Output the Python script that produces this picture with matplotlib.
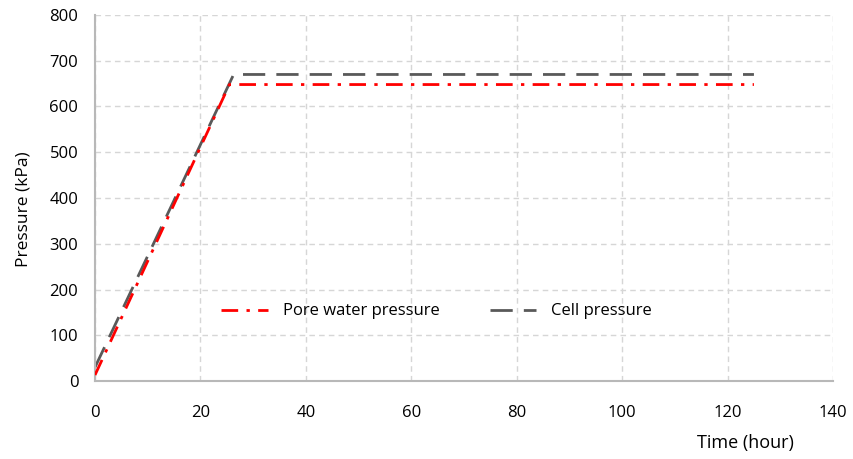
import matplotlib.pyplot as plt

# data
time_pore = [0, 25.5, 125]
pore_pressure = [13, 648, 648]
time_cell = [0, 26.3, 125]
cell_pressure = [30, 670, 670]

x_ticks = [0, 20, 40, 60, 80, 100, 120, 140]
y_ticks = [0, 100, 200, 300, 400, 500, 600, 700, 800]

plt.rcParams['font.family'] = ['Open Sans', 'DejaVu Sans']

fig = plt.figure(figsize=(8.54, 4.59), dpi=100)
ax = fig.add_axes([95/854, 78/459, 738/854, 366/459])

ax.plot(time_pore, pore_pressure, color='#ff0000', lw=2,
        dashes=(6, 3, 1.2, 3), label='Pore water pressure', zorder=3)
ax.plot(time_cell, cell_pressure, color='#595959', lw=2,
        dashes=(8, 4), label='Cell pressure', zorder=2)

ax.set_xlim(0, 140)
ax.set_ylim(0, 800)
ax.set_xticks(x_ticks)
ax.set_yticks(y_ticks)
ax.grid(True, color='#d6d6d6', linestyle=(0, (4, 3)), lw=1)
ax.set_axisbelow(True)

for s in ['top', 'right']:
    ax.spines[s].set_visible(False)
for s in ['left', 'bottom']:
    ax.spines[s].set_color('#b8b8b8')
    ax.spines[s].set_linewidth(1.5)

ax.tick_params(length=0, labelsize=12, colors='#000000')
ax.tick_params(axis='x', pad=17)
ax.tick_params(axis='y', pad=12)

ax.set_ylabel('Pressure (kPa)', fontsize=12.5)
ax.yaxis.set_label_coords(-0.086, 0.47)
fig.text(745/854, 1 - 443/459, 'Time (hour)', fontsize=13, ha='center', va='center')

ax.legend(loc='center', bbox_to_anchor=(0.463, 0.19), ncol=2, frameon=False,
          fontsize=12, handlelength=2.8, handletextpad=0.9, columnspacing=3.0)

plt.savefig('out.png', dpi=100)
